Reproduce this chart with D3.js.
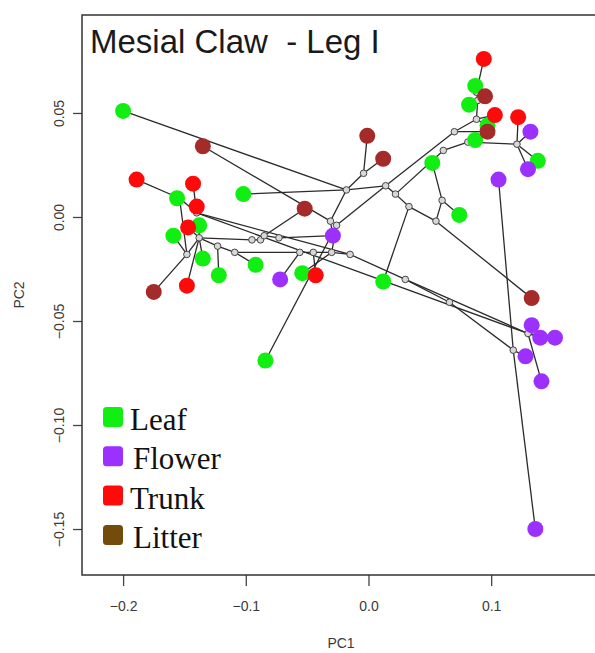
<!DOCTYPE html>
<html>
<head>
<meta charset="utf-8">
<script src="https://cdn.jsdelivr.net/npm/d3@7"></script>
<style>
  body { margin: 0; background: #fff; }
  svg { display: block; }
</style>
</head>
<body>
<svg id="chart" width="595" height="653"></svg>
<script>
// tips, PC1 / PC2 scores
const leafPC1 = [-0.200, -0.156, -0.138, -0.159, -0.102, -0.135, -0.092, -0.122, -0.054, 0.012, -0.084, 0.052, 0.074, 0.087, 0.082, 0.097, 0.087, 0.138];
const leafPC2 = [0.051, 0.009, -0.004, -0.009, 0.011, -0.020, -0.023, -0.028, -0.027, -0.031, -0.069, 0.026, 0.001, 0.063, 0.054, 0.044, 0.037, 0.027];
const flowerPC1 = [-0.029, -0.072, 0.132, 0.130, 0.106, 0.133, 0.140, 0.152, 0.128, 0.141, 0.136];
const flowerPC2 = [-0.009, -0.030, 0.041, 0.023, 0.018, -0.052, -0.058, -0.058, -0.067, -0.079, -0.150];
const trunkPC1 = [-0.189, -0.143, -0.140, -0.147, -0.148, -0.043, 0.094, 0.103, 0.122];
const trunkPC2 = [0.018, 0.016, 0.005, -0.005, -0.033, -0.028, 0.076, 0.049, 0.048];
const litterPC1 = [-0.135, -0.175, -0.052, -0.001, 0.012, 0.095, 0.097, 0.133];
const litterPC2 = [0.034, -0.036, 0.004, 0.039, 0.028, 0.058, 0.041, -0.039];

// reconstructed ancestral nodes
const nodePC1 = [-0.154, -0.148, -0.138, -0.123, -0.109, -0.095, -0.088, -0.085, -0.073, -0.056,
  -0.045, -0.030, -0.015, -0.031, -0.026, -0.140, -0.018, -0.004, 0.014, 0.022,
  0.033, 0.055, 0.060, 0.030, 0.066, 0.088, 0.070, 0.081, 0.061, 0.121,
  0.089, 0.088, 0.118, 0.130];
const nodePC2 = [0.009, -0.018, -0.010, -0.014, -0.017, -0.011, -0.011, -0.009, -0.010, -0.017,
  -0.017, -0.017, -0.018, -0.002, -0.004, 0.002, 0.013, 0.021, 0.015, 0.011,
  0.005, -0.002, 0.008, -0.030, -0.041, 0.047, 0.041, 0.036, 0.032, 0.035,
  0.056, 0.060, -0.064, -0.056];

// tree branches (L leaf, F flower, T trunk, B litter, N node)
const branches = [
  ["N18", "N16"], ["N18", "N26"], ["N18", "N19"], ["N18", "N14"],
  ["N19", "N28"], ["N19", "N20"], ["N20", "L10"], ["N20", "N21"],
  ["N21", "N22"], ["N21", "B8"], ["N22", "L12"], ["N22", "L13"],
  ["N26", "N25"], ["N26", "B7"], ["N25", "N30"], ["N25", "T8"], ["N25", "L16"],
  ["N30", "L15"], ["N30", "B6"], ["N30", "N31"], ["N31", "L14"], ["N31", "T7"],
  ["N28", "N27"], ["N27", "L17"], ["N27", "N29"],
  ["N29", "T9"], ["N29", "F3"], ["N29", "L18"], ["N29", "F4"],
  ["N16", "L1"], ["N16", "L5"], ["N16", "N17"], ["N17", "B4"], ["N17", "B5"],
  ["N16", "N13"], ["N13", "B1"], ["N13", "F1"],
  ["N14", "N11"], ["N14", "L11"], ["N11", "N12"], ["N11", "L9"], ["N11", "N10"],
  ["N10", "T6"], ["N10", "N9"], ["N9", "F2"], ["N9", "N4"],
  ["N4", "L7"], ["N4", "N3"], ["N3", "L8"], ["N3", "N2"],
  ["N2", "L3"], ["N2", "T5"], ["N2", "L6"], ["N2", "T4"], ["N2", "N5"],
  ["N5", "N6"], ["N6", "N7"], ["N7", "B3"], ["N7", "N8"], ["N8", "F1"],
  ["N2", "N1"], ["N1", "B2"], ["N1", "L4"], ["N1", "N0"],
  ["N0", "T1"], ["N0", "L2"], ["N0", "N15"],
  ["N15", "T3"], ["N15", "T2"], ["N15", "N12"], ["N15", "N33"],
  ["N12", "N23"], ["N23", "N24"], ["N24", "N32"], ["N23", "N33"],
  ["N33", "F6"], ["N33", "F7"], ["N33", "F8"], ["N33", "F10"],
  ["N32", "F9"], ["N32", "F5"], ["N32", "F11"],
];

const habitats = ["Leaf", "Flower", "Trunk", "Litter"];
const xTicks = [-0.2, -0.1, 0.0, 0.1];
const yTicks = [0.05, 0.00, -0.05, -0.10, -0.15];

const pointColor = { Leaf: "#11ee11", Flower: "#9b30ff", Trunk: "#ff0a0a", Litter: "#a52a2a" };
const legendColor = { Leaf: "#11ee11", Flower: "#9b30ff", Trunk: "#ff0a0a", Litter: "#734c0b" };

// put everything into one lookup by id
const pos = {};
const tips = [];
const addTips = ( prefix, habitat, xs, ys ) => {
  xs.forEach( ( v, i ) => {
    const d = { id: prefix + ( i + 1 ), habitat, x: v, y: ys[i] };
    pos[d.id] = d;
    tips.push( d );
  } );
};
addTips( "L", "Leaf", leafPC1, leafPC2 );
addTips( "F", "Flower", flowerPC1, flowerPC2 );
addTips( "T", "Trunk", trunkPC1, trunkPC2 );
addTips( "B", "Litter", litterPC1, litterPC2 );
const nodes = nodePC1.map( ( v, i ) => ( { id: "N" + i, x: v, y: nodePC2[i] } ) );
nodes.forEach( d => { pos[d.id] = d; } );

const svg = d3.select( "#chart" );
const BOX = { left: 82, right: 600, top: 15, bottom: 575 };

const x = d3.scaleLinear()
  .domain( [ -0.2335, 0.1887 ] )
  .range( [ BOX.left, BOX.right ] );
const y = d3.scaleLinear()
  .domain( [ -0.1721, 0.0971 ] )
  .range( [ BOX.bottom, BOX.top ] );

// axes
const xAxis = d3.axisBottom( x ).tickValues( xTicks ).tickFormat( d3.format( ".1f" ) )
  .tickSize( 11 ).tickPadding( 15 );
const yAxis = d3.axisLeft( y ).tickValues( yTicks ).tickFormat( d3.format( ".2f" ) )
  .tickSize( 9 );

const gx = svg.append( "g" )
  .attr( "transform", `translate(0,${BOX.bottom})` )
  .call( xAxis );
const gy = svg.append( "g" )
  .attr( "transform", `translate(${BOX.left},0)` )
  .call( yAxis );

[ gx, gy ].forEach( g => {
  g.select( ".domain" ).remove();
  g.selectAll( "line" ).attr( "stroke", "#444" ).attr( "stroke-width", 1.3 );
  g.selectAll( "text" )
    .attr( "fill", "#3a3a3a" )
    .style( "font-family", "'Liberation Sans', Arial, sans-serif" )
    .style( "font-size", "14px" );
} );
gy.selectAll( "text" )
  .attr( "transform", "rotate(-90)" )
  .attr( "x", 0 )
  .attr( "y", -18 )
  .attr( "dy", 0 )
  .attr( "text-anchor", "middle" );

svg.append( "text" )
  .attr( "x", ( BOX.left + BOX.right ) / 2 )
  .attr( "y", 648 )
  .attr( "text-anchor", "middle" )
  .attr( "fill", "#3a3a3a" )
  .style( "font-family", "'Liberation Sans', Arial, sans-serif" )
  .style( "font-size", "14px" )
  .text( "PC1" );

svg.append( "text" )
  .attr( "transform", `translate(24,${( BOX.top + BOX.bottom ) / 2}) rotate(-90)` )
  .attr( "text-anchor", "middle" )
  .attr( "fill", "#3a3a3a" )
  .style( "font-family", "'Liberation Sans', Arial, sans-serif" )
  .style( "font-size", "14px" )
  .text( "PC2" );

// plot box
svg.append( "rect" )
  .attr( "x", BOX.left )
  .attr( "y", BOX.top )
  .attr( "width", BOX.right - BOX.left )
  .attr( "height", BOX.bottom - BOX.top )
  .attr( "fill", "none" )
  .attr( "stroke", "#333" )
  .attr( "stroke-width", 1.5 );

// title
svg.append( "text" )
  .attr( "x", 90 )
  .attr( "y", 53 )
  .attr( "fill", "#1a1a1a" )
  .style( "font-family", "'Liberation Sans', Arial, sans-serif" )
  .style( "font-size", "33px" )
  .style( "white-space", "pre" )
  .text( "Mesial Claw  - Leg I" );

// branches
svg.append( "g" )
  .selectAll( "line" )
  .data( branches )
  .join( "line" )
  .attr( "x1", d => x( pos[d[0]].x ) )
  .attr( "y1", d => y( pos[d[0]].y ) )
  .attr( "x2", d => x( pos[d[1]].x ) )
  .attr( "y2", d => y( pos[d[1]].y ) )
  .attr( "stroke", "#2b2b2b" )
  .attr( "stroke-width", 1.3 );

// ancestral nodes
svg.append( "g" )
  .selectAll( "circle" )
  .data( nodes )
  .join( "circle" )
  .attr( "cx", d => x( d.x ) )
  .attr( "cy", d => y( d.y ) )
  .attr( "r", 3.3 )
  .attr( "fill", "#d8d8d8" )
  .attr( "stroke", "#444" )
  .attr( "stroke-width", 1 );

// tips
svg.append( "g" )
  .selectAll( "circle" )
  .data( tips )
  .join( "circle" )
  .attr( "cx", d => x( d.x ) )
  .attr( "cy", d => y( d.y ) )
  .attr( "r", 8 )
  .attr( "fill", d => pointColor[d.habitat] );

// legend
const legend = svg.append( "g" );
const legendRows = legend.selectAll( "g" )
  .data( habitats )
  .join( "g" )
  .attr( "transform", ( d, i ) => `translate(103,${417 + i * 39.3})` );
legendRows.append( "rect" )
  .attr( "x", 0 )
  .attr( "y", -10 )
  .attr( "width", 20 )
  .attr( "height", 20 )
  .attr( "rx", 3.5 )
  .attr( "fill", d => legendColor[d] );
legendRows.append( "text" )
  .attr( "x", ( d, i ) => i % 2 ? 30 : 27 )
  .attr( "y", 13 )
  .attr( "fill", "#111" )
  .style( "font-family", "'Liberation Serif', 'Times New Roman', serif" )
  .style( "font-size", "31px" )
  .text( d => d );
</script>
</body>
</html>
